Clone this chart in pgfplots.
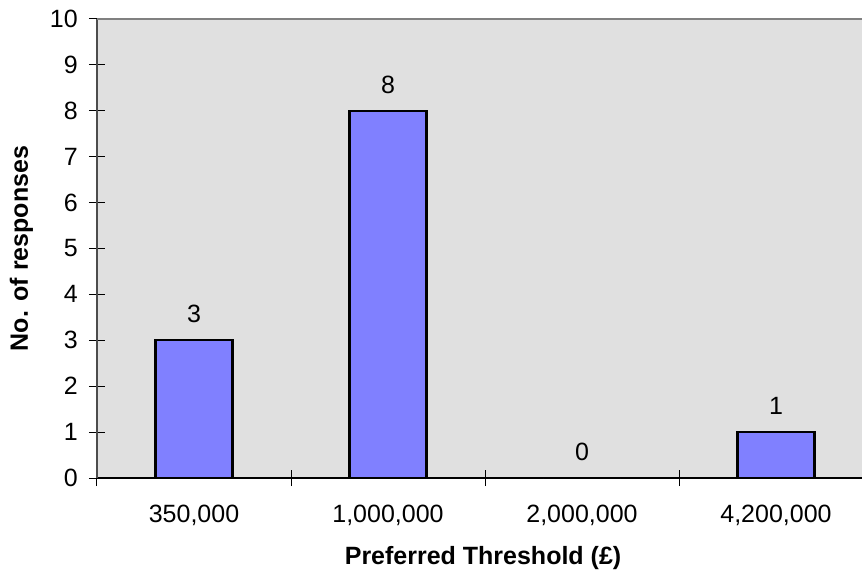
\documentclass[border=0pt]{standalone}
\usepackage{pgfplots}
\pgfplotsset{compat=1.18}
\usepackage{fontspec}
\setmainfont{Liberation Sans}
\definecolor{barblue}{HTML}{8080FF}
\definecolor{plotbg}{HTML}{E0E0E0}
\definecolor{frame}{HTML}{808080}

\begin{document}
\begin{tikzpicture}[x=1pt,y=1pt]
\begin{axis}[
  at={(0,0)}, anchor=south west,
  x=194pt, y=45.9pt,
  xmin=-0.5, xmax=3.443,
  ymin=0, ymax=10,
  axis lines*=left,
  x axis line style={black, line width=1.4pt},
  y axis line style={black!70, line width=1.4pt},
  axis background/.style={fill=plotbg},
  clip=false,
  font=\fontsize{25}{30}\selectfont,
  /pgf/number format/assume math mode=true,
  tick align=center,
  major tick length=16pt,
  tick style={black, line width=1pt},
  ytick={0,...,10},
  yticklabel style={inner sep=0pt, xshift=-11pt},
  xtick={-0.5,0.5,1.5,2.5},
  xticklabels={},
  extra x ticks={0,1,2,3},
  extra x tick labels={{350,000},{1,000,000},{2,000,000},{4,200,000}},
  extra x tick style={major tick length=0pt,
    xticklabel style={yshift=-24pt}},
  bar width=77pt,
]
% top edge of the plot area
\draw[frame, line width=1.6pt] (axis cs:-0.5,10) -- (axis cs:3.443,10);
\addplot[ybar, fill=barblue, draw=black, line width=2.2pt,
  nodes near coords,
  every node near coord/.append style={font=\fontsize{25}{30}\selectfont, yshift=13pt}]
  coordinates {(0,3) (1,8) (2,0) (3,1)};
% axis titles
\node[font=\fontsize{25}{30}\selectfont\bfseries, anchor=center] at (axis cs:1.49,-1.75) {Preferred Threshold (£)};
\node[font=\fontsize{25}{30}\selectfont\bfseries, rotate=90, anchor=center] at (axis cs:-0.89,5) {No. of responses};
\end{axis}
\pgfresetboundingbox
\useasboundingbox (-97pt,-100pt) rectangle (765pt,478pt);
\end{tikzpicture}
\end{document}
